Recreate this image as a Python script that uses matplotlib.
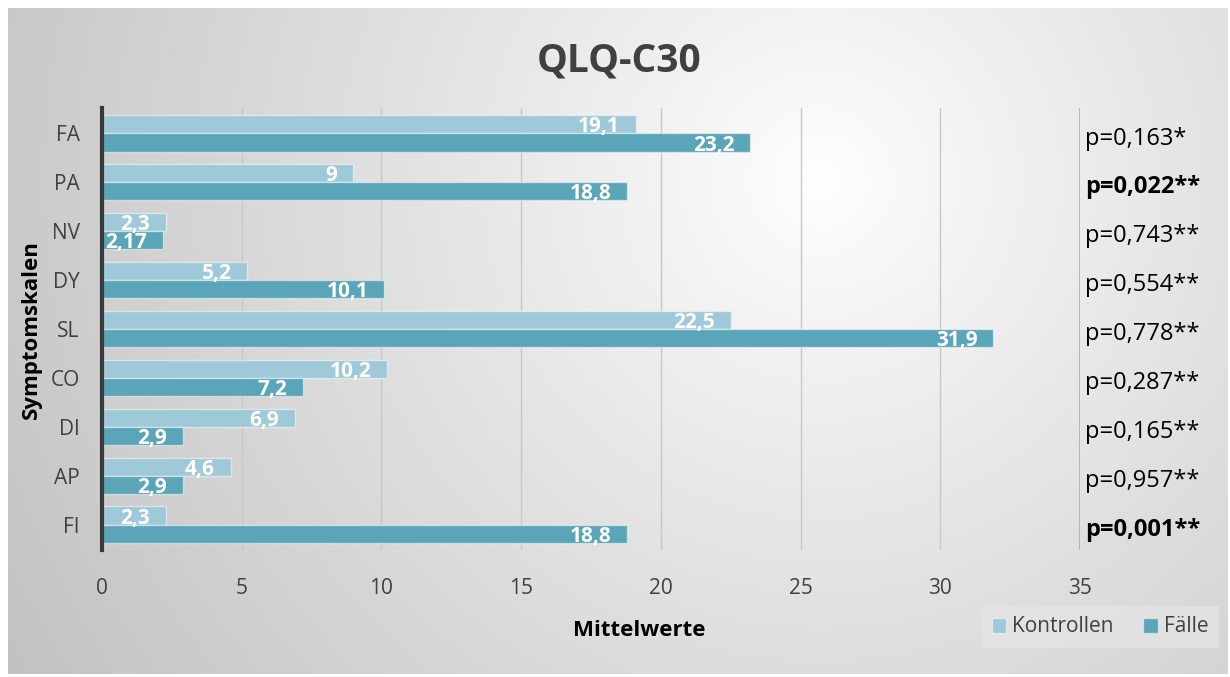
import numpy as np
import matplotlib.pyplot as plt
from matplotlib.patches import Patch

plt.rcParams['font.family'] = ['Open Sans', 'DejaVu Sans']

# data, top to bottom as in the chart
categories = ['FA', 'PA', 'NV', 'DY', 'SL', 'CO', 'DI', 'AP', 'FI']
kontrollen = [19.1, 9, 2.3, 5.2, 22.5, 10.2, 6.9, 4.6, 2.3]
faelle = [23.2, 18.8, 2.17, 10.1, 31.9, 7.2, 2.9, 2.9, 18.8]
p_values = ['p=0,163*', 'p=0,022**', 'p=0,743**', 'p=0,554**', 'p=0,778**',
            'p=0,287**', 'p=0,165**', 'p=0,957**', 'p=0,001**']
p_bold = [False, True, False, False, False, False, False, False, True]
x_ticks = [0, 5, 10, 15, 20, 25, 30, 35]

c_kon = '#9fc8d8'
c_fae = '#5ba5b9'
txt_gray = '#404040'

W, H = 1230, 677
fig = plt.figure(figsize=(W / 100, H / 100), dpi=100)
fig.patch.set_facecolor('white')

# radial gradient background of the chart box
bg = fig.add_axes([8 / W, 3 / H, 1220 / W, 666 / H])
yy, xx = np.mgrid[0:666, 0:1220]
d = np.hypot(xx + 8 - 820, yy + 8 - 180)
shade = 1 - 0.24 * (d / 950) ** 0.9
bg.imshow(np.dstack([shade] * 3), aspect='auto', extent=[0, 1, 0, 1])
bg.set_axis_off()

ax = fig.add_axes([102 / W, 1 - 550 / H, 978 / W, 442 / H])
ax.patch.set_alpha(0)

y = np.arange(len(categories))
h = 0.37
b1 = ax.barh(y - h / 2, kontrollen, height=h, color=c_kon,
             edgecolor=(1, 1, 1, 0.5), linewidth=1, label='Kontrollen', zorder=3)
b2 = ax.barh(y + h / 2, faelle, height=h, color=c_fae,
             edgecolor=(1, 1, 1, 0.5), linewidth=1, label='Fälle', zorder=3)

ax.set_xlim(0, 35)
ax.set_ylim(len(categories) - 0.5 + 0.02, -0.5 - 0.02)
ax.set_yticks(y)
ax.set_yticklabels(categories)
ax.set_xticks(x_ticks)
ax.tick_params(axis='both', length=0, labelsize=15, labelcolor=txt_gray)
ax.tick_params(axis='y', pad=16)
ax.tick_params(axis='x', pad=20)
for s in ['top', 'right', 'bottom']:
    ax.spines[s].set_visible(False)
ax.spines['left'].set_color('#3a3a3a')
ax.spines['left'].set_linewidth(3)
ax.spines['left'].set_zorder(5)
ax.grid(axis='x', color='#c8c8c8', linewidth=1, zorder=0)
ax.axvline(35, color='#a8a8a8', linewidth=1.2, zorder=1)

# value labels inside the bar ends
labels = []
for bars, vals in [(b1, kontrollen), (b2, faelle)]:
    for bar, v in zip(bars, vals):
        s = ('%g' % v).replace('.', ',')
        t = ax.annotate(s, (v, bar.get_y() + bar.get_height() / 2),
                        xytext=(-11.5, -5.8), textcoords='offset points',
                        ha='right', va='baseline', color='white',
                        fontsize=15, fontweight='bold', zorder=4)
        labels.append((t, bar))

# labels that would run past the axis are pushed to the bar start
fig.canvas.draw()
r = fig.canvas.get_renderer()
x0 = ax.transData.transform((0, 0))[0]
for t, bar in labels:
    ext = t.get_window_extent(r)
    if ext.x0 < x0 + 2:
        t.set_ha('left')
        t.xy = (0, t.xy[1])
        t.set_position((1.5, -5.8))

# p-values right of the plot
for yi, p, bold in zip(y, p_values, p_bold):
    ax.annotate(p, (35, yi), xytext=(3.5, -8), textcoords='offset points',
                ha='left', va='baseline', fontsize=17,
                fontweight='bold' if bold else 'normal', color='black',
                annotation_clip=False)

fig.text(619 / W, 1 - 61 / H, 'QLQ-C30', ha='center', va='center',
         fontsize=28, fontweight='bold', color='#404040')
fig.text(639 / W, 1 - 630 / H, 'Mittelwerte', ha='center', va='center',
         fontsize=16, fontweight='bold', color='black')
fig.text(31 / W, 1 - 330 / H, 'Symptomskalen', ha='center', va='center',
         rotation=90, fontsize=16, fontweight='bold', color='black')

leg = fig.legend(handles=[Patch(facecolor=c_kon, edgecolor=(1, 1, 1, 0.5)),
                          Patch(facecolor=c_fae, edgecolor=(1, 1, 1, 0.5))],
                 labels=['Kontrollen', 'Fälle'], ncol=2,
                 loc='center', bbox_to_anchor=(1100 / W, 1 - 627 / H),
                 fontsize=15, frameon=True, fancybox=False,
                 handlelength=0.7, handleheight=0.7, handletextpad=0.3,
                 columnspacing=1.4, borderpad=0.5)
leg.get_frame().set_facecolor('#e4e4e4')
leg.get_frame().set_edgecolor('none')
for t in leg.get_texts():
    t.set_color(txt_gray)

fig.savefig('out.png', dpi=100)
